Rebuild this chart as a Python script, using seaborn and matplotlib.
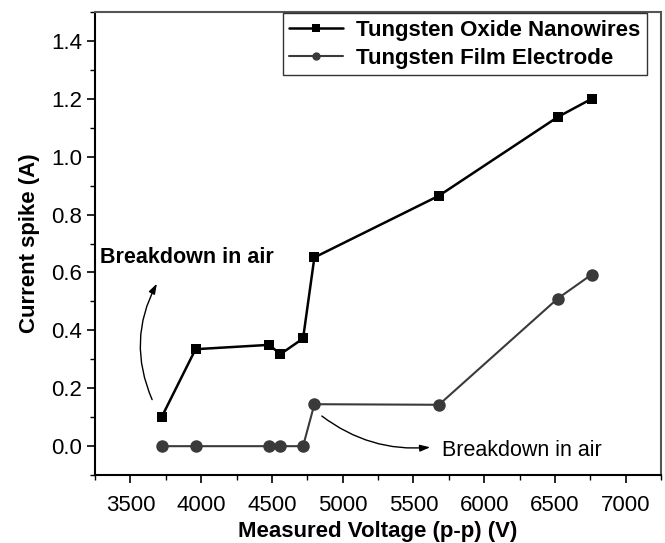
import matplotlib
matplotlib.use("Agg")
import matplotlib.pyplot as plt
from matplotlib.ticker import MultipleLocator
import seaborn as sns
import pandas as pd

voltage = [3720, 3960, 4480, 4560, 4720, 4800, 5680, 6520, 6760]
nanowires = [0.100, 0.335, 0.350, 0.318, 0.372, 0.652, 0.865, 1.137, 1.200]
film = [0.000, 0.000, 0.000, 0.000, 0.000, 0.145, 0.143, 0.510, 0.593]
series_names = ["Tungsten Oxide Nanowires", "Tungsten Film Electrode"]
x_ticks = [3500, 4000, 4500, 5000, 5500, 6000, 6500, 7000]
y_ticks = [0.0, 0.2, 0.4, 0.6, 0.8, 1.0, 1.2, 1.4]

sns.set_style("ticks")
plt.rcParams["font.family"] = ["Liberation Sans", "DejaVu Sans"]
plt.rcParams["text.color"] = "black"
plt.rcParams["axes.labelcolor"] = "black"
plt.rcParams["xtick.color"] = "black"
plt.rcParams["ytick.color"] = "black"

fig = plt.figure(figsize=(6.65, 5.43), dpi=100)
ax = fig.add_axes([0.143, 0.125, 0.851, 0.853])

df1 = pd.DataFrame({"V": voltage, "I": nanowires})
df2 = pd.DataFrame({"V": voltage, "I": film})

sns.lineplot(data=df1, x="V", y="I", ax=ax, color="black", linewidth=1.8,
             marker="s", markersize=7.5, markeredgewidth=0, sort=False,
             label=series_names[0])
sns.lineplot(data=df2, x="V", y="I", ax=ax, color="#3a3a3a", linewidth=1.5,
             marker="o", markersize=9, markeredgewidth=0, sort=False,
             label=series_names[1])

ax.set_xlim(3250, 7250)
ax.set_ylim(-0.1, 1.5)
ax.set_xticks(x_ticks)
ax.set_yticks(y_ticks)
ax.set_yticklabels([f"{v:.1f}" for v in y_ticks])
ax.xaxis.set_minor_locator(MultipleLocator(250))
ax.yaxis.set_minor_locator(MultipleLocator(0.1))
ax.tick_params(axis="both", which="major", length=6, width=1.2, labelsize=16, direction="out", color="black")
ax.tick_params(axis="both", which="minor", length=3.5, width=1.0, direction="out", color="black")
ax.tick_params(axis="x", pad=8)

for s in ["left", "bottom"]:
    ax.spines[s].set_color("black")
    ax.spines[s].set_linewidth(1.5)
for s in ["top", "right"]:
    ax.spines[s].set_visible(True)
    ax.spines[s].set_color("#555555")
    ax.spines[s].set_linewidth(1.5)

ax.set_xlabel("Measured Voltage (p-p) (V)", fontsize=16, fontweight="bold", labelpad=4)
ax.set_ylabel("Current spike (A)", fontsize=16, fontweight="bold", labelpad=8)

leg = ax.legend(loc="upper right", bbox_to_anchor=(0.975, 0.997), frameon=True, fancybox=False,
                prop={"weight": "bold", "size": 16}, borderpad=0.3, handlelength=2.4,
                labelspacing=0.3, handletextpad=0.6, borderaxespad=0.0)
leg.get_frame().set_edgecolor("black")
leg.get_frame().set_linewidth(1.0)
for h in leg.legend_handles:
    h.set_markersize(6)

ax.text(3285, 0.653, "Breakdown in air", fontsize=15.5, fontweight="bold", va="center", ha="left")
ax.annotate("", xy=(3696, 0.57), xytext=(3661, 0.152),
            arrowprops=dict(arrowstyle="-|>,head_length=0.6,head_width=0.2", color="black", lw=1.0,
                            connectionstyle="arc3,rad=-0.25"))

ax.text(5702, -0.014, "Breakdown in air", fontsize=15.5, va="center", ha="left")
ax.annotate("", xy=(5638, -0.003), xytext=(4837, 0.11),
            arrowprops=dict(arrowstyle="-|>,head_length=0.6,head_width=0.2", color="black", lw=1.0,
                            connectionstyle="arc3,rad=0.2"))

fig.savefig("out.png", dpi=100)
